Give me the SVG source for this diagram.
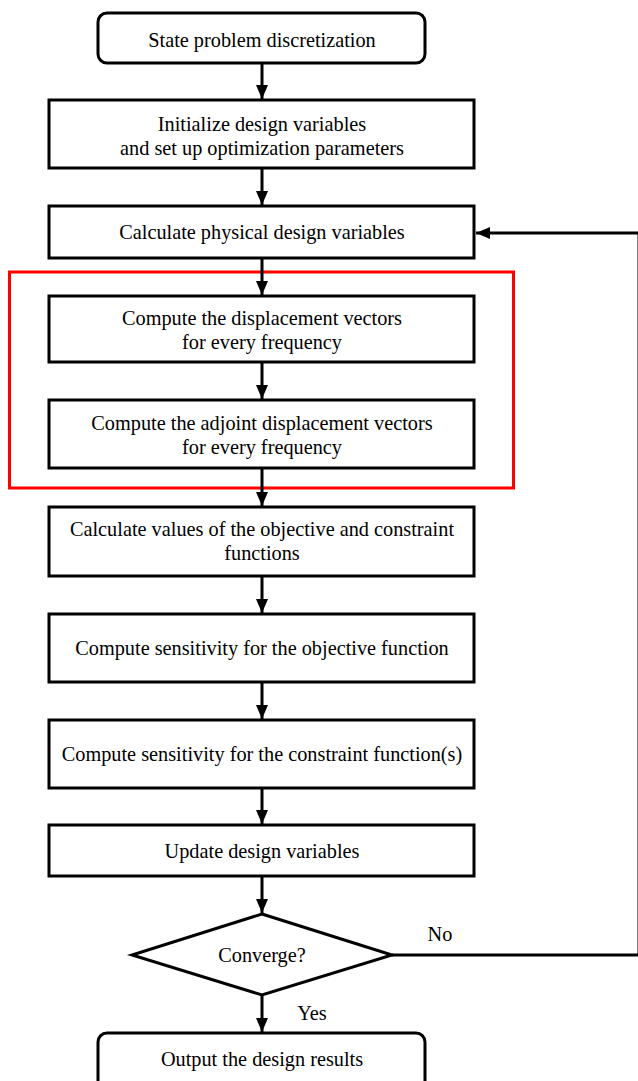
<svg xmlns="http://www.w3.org/2000/svg" width="638" height="1081" viewBox="0 0 638 1081">
<style>
.box{fill:#fff;stroke:#000;stroke-width:3}
.t{font-family:"Liberation Serif","Times New Roman",serif;font-size:20.3px;text-anchor:middle;fill:#000}
.c{fill:none;stroke:#000;stroke-width:3}
</style>
<defs>
<marker id="ah" markerUnits="userSpaceOnUse" markerWidth="14" markerHeight="14" viewBox="0 0 14 14" refX="14" refY="7" orient="auto">
<path d="M0,1 L14,7 L0,13 Z" fill="#000"/>
</marker>
</defs>
<rect width="638" height="1081" fill="#fff"/>
<g id="group-red"><rect x="9.5" y="272" width="504" height="216" fill="none" stroke="#f00" stroke-width="3"/></g>
<g id="connectors">
<line class="c" x1="262" y1="63" x2="262" y2="99" marker-end="url(#ah)"/>
<line class="c" x1="262" y1="168" x2="262" y2="205" marker-end="url(#ah)"/>
<line class="c" x1="262" y1="258" x2="262" y2="295" marker-end="url(#ah)"/>
<line class="c" x1="262" y1="362" x2="262" y2="399" marker-end="url(#ah)"/>
<line class="c" x1="262" y1="468" x2="262" y2="506" marker-end="url(#ah)"/>
<line class="c" x1="262" y1="576" x2="262" y2="613" marker-end="url(#ah)"/>
<line class="c" x1="262" y1="682" x2="262" y2="719" marker-end="url(#ah)"/>
<line class="c" x1="262" y1="788" x2="262" y2="824" marker-end="url(#ah)"/>
<line class="c" x1="262" y1="876" x2="262" y2="913" marker-end="url(#ah)"/>
<line class="c" x1="262" y1="995" x2="262" y2="1032" marker-end="url(#ah)"/>
<polyline class="c" points="392,955 639,955 639,233 476,233" marker-end="url(#ah)"/>
<text class="t" x="440" y="941">No</text>
<text class="t" x="312" y="1020">Yes</text>
</g>
<g id="n1"><rect class="box" x="98" y="13" width="327" height="50" rx="9"/><text class="t" x="262" y="47">State problem discretization</text></g>
<g id="n2"><rect class="box" x="49" y="100" width="425" height="68"/><text class="t" x="262" y="131">Initialize design variables</text><text class="t" x="262" y="155">and set up optimization parameters</text></g>
<g id="n3"><rect class="box" x="49" y="206" width="425" height="52"/><text class="t" x="262" y="239">Calculate physical design variables</text></g>
<g id="n4"><rect class="box" x="49" y="296" width="425" height="66"/><text class="t" x="262" y="325">Compute the displacement vectors</text><text class="t" x="262" y="349">for every frequency</text></g>
<g id="n5"><rect class="box" x="49" y="400" width="425" height="68"/><text class="t" x="262" y="430">Compute the adjoint displacement vectors</text><text class="t" x="262" y="454">for every frequency</text></g>
<g id="n6"><rect class="box" x="49" y="507" width="425" height="69"/><text class="t" x="262" y="536">Calculate values of the objective and constraint</text><text class="t" x="262" y="560">functions</text></g>
<g id="n7"><rect class="box" x="49" y="614" width="425" height="68"/><text class="t" x="262" y="655">Compute sensitivity for the objective function</text></g>
<g id="n8"><rect class="box" x="49" y="720" width="425" height="68"/><text class="t" x="262" y="761">Compute sensitivity for the constraint function(s)</text></g>
<g id="n9"><rect class="box" x="49" y="825" width="425" height="51"/><text class="t" x="262" y="858">Update design variables</text></g>
<g id="n10"><polygon class="box" points="262,914 392,955 262,995 132,955"/><text class="t" x="262" y="962">Converge?</text></g>
<g id="n11"><rect class="box" x="98" y="1033" width="327" height="60" rx="9"/><text class="t" x="262" y="1066">Output the design results</text></g>
</svg>
